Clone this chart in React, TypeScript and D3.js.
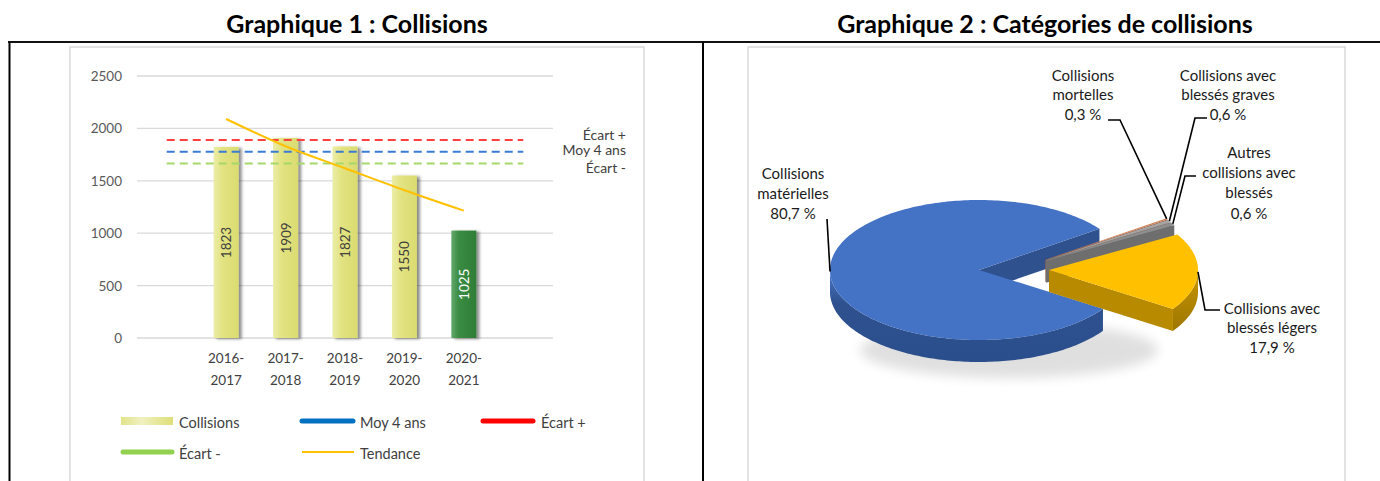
import React from "react";
import * as d3 from "d3";

// ---------- Data ----------
const years = ["2016-2017", "2017-2018", "2018-2019", "2019-2020", "2020-2021"];
const collisions = [1823, 1909, 1827, 1550, 1025];
const trend = [2090, 1830, 1620, 1410, 1215];
const moy4 = 1777;
const ecartPlus = 1890;
const ecartMinus = 1665;
const yTicks = [0, 500, 1000, 1500, 2000, 2500];

const pieNames = [
  "Collisions matérielles",
  "Collisions mortelles",
  "Collisions avec blessés graves",
  "Autres collisions avec blessés",
  "Collisions avec blessés légers",
];
const piePct = [80.7, 0.3, 0.6, 0.6, 17.9];
const pieExploded = [false, true, true, true, true];
const pieLabelLines = [
  ["Collisions", "matérielles", "80,7 %"],
  ["Collisions", "mortelles", "0,3 %"],
  ["Collisions avec", "blessés graves", "0,6 %"],
  ["Autres", "collisions avec", "blessés", "0,6 %"],
  ["Collisions avec", "blessés légers", "17,9 %"],
];

// ---------- Styles ----------
const FONT = "Lato, 'Open Sans', sans-serif";
const sliceTop = ["#4472C4", "#D0825A", "#A5A5A5", "#8E8E8E", "#FFC000"];
const sliceSideTop = ["#4A78C8", "#B06A45", "#8A8A8A", "#777777", "#D6A200"];
const sliceSideBot = ["#2A4D8C", "#8A4E30", "#666666", "#5A5A5A", "#9E7700"];
const sliceWall = ["#2F528F", "#9A5535", "#7A7A7A", "#6E6E6E", "#B88A00"];

// label layout (annotation placement)
const labelPos = [
  { x: 793, ys: [173, 193, 213], leader: [[827, 219]] },
  { x: 1083, ys: [75, 94, 114], leader: [[1108, 120], [1120, 120]] },
  { x: 1228, ys: [75, 94, 114], leader: [[1207, 118], [1195, 118]] },
  { x: 1249, ys: [152, 172, 192, 213], leader: [[1196, 176], [1185, 176]] },
  { x: 1272, ys: [308, 327, 347], leader: [[1220, 310], [1205, 310]] },
];

const PIE = { cx: 979, cy: 270, rx: 149, ry: 70, depth: 22, explode: 70, startDeg: 123.7, spread: 0.5 };

export default function App() {
  // ---------- Chart 1 ----------
  const slots = ["lead", ...years, "tail"];
  const x = d3
    .scaleBand<string>()
    .domain(slots)
    .range([137, 553])
    .paddingInner(0.579)
    .paddingOuter(0.2895);
  const y = d3.scaleLinear().domain([0, 2500]).range([338, 76]);
  const cOf = (k: string) => (x(k) ?? 0) + x.bandwidth() / 2;
  const trendPath = d3
    .line<number>()
    .x((_, i) => cOf(years[i]))
    .y((d) => y(d))
    .curve(d3.curveMonotoneX)(trend) as string;
  const refX1 = cOf("lead");
  const refX2 = cOf("tail");
  const refs = [
    { v: ecartPlus, color: "#FF4040", label: "Écart +", dy: -5 },
    { v: moy4, color: "#3A7BD5", label: "Moy 4 ans", dy: -2 },
    { v: ecartMinus, color: "#A6D86A", label: "Écart -", dy: 4 },
  ];

  // ---------- Chart 2 (3D pie) ----------
  const k = PIE.ry / PIE.rx;
  const R = PIE.rx;
  const startRad = (PIE.startDeg * Math.PI) / 180;
  const arcs = d3
    .pie<number>()
    .sort(null)
    .value((d) => d)
    .startAngle(startRad)
    .endAngle(startRad + 2 * Math.PI)(piePct);

  const pt = (t: number, r: number, off: number[], h: number): [number, number] => [
    PIE.cx + off[0] + r * Math.cos(t),
    PIE.cy + off[1] + k * r * Math.sin(t) + h,
  ];
  const arcPts = (a: number, b: number, off: number[], h: number) => {
    const n = Math.max(2, Math.ceil(Math.abs(b - a) / 0.02));
    const out: [number, number][] = [];
    for (let i = 0; i <= n; i++) out.push(pt(a + ((b - a) * i) / n, R, off, h));
    return out;
  };
  const poly = (p: [number, number][]) =>
    "M" + p.map((q) => q[0].toFixed(2) + "," + q[1].toFixed(2)).join("L") + "Z";

  const norm = (ts: number, te: number) => {
    let a = ts - Math.PI / 2;
    let b = te - Math.PI / 2;
    while (a >= Math.PI) {
      a -= 2 * Math.PI;
      b -= 2 * Math.PI;
    }
    return [a, b];
  };
  // exploded group bisector
  const grp = arcs.filter((_, i) => pieExploded[i]);
  const [gs] = norm(grp[0].startAngle, grp[0].endAngle);
  const gSpan = grp.reduce((s, a) => s + (a.endAngle - a.startAngle), 0);
  const gMid = gs + gSpan / 2;

  const slices = arcs.map((a, i) => {
    const [ts, te] = norm(a.startAngle, a.endAngle);
    const tm = (ts + te) / 2;
    const dir = gMid + (tm - gMid) * PIE.spread;
    const off = pieExploded[i]
      ? [PIE.explode * Math.cos(dir), PIE.explode * k * Math.sin(dir)]
      : [0, 0];
    const center = pt(0, 0, off, 0);
    const centerB = pt(0, 0, off, PIE.depth);
    const top = poly([center, ...arcPts(ts, te, off, 0)]);
    const walls: string[] = [];
    for (const base of [-2 * Math.PI, 0, 2 * Math.PI]) {
      const lo = Math.max(ts, base);
      const hi = Math.min(te, base + Math.PI);
      if (hi > lo) {
        const t1 = arcPts(lo, hi, off, 0);
        const t2 = arcPts(hi, lo, off, PIE.depth);
        walls.push(poly([...t1, ...t2]));
      }
    }
    const radial: string[] = [];
    if (Math.cos(ts) < 0)
      radial.push(poly([center, pt(ts, R, off, 0), pt(ts, R, off, PIE.depth), centerB]));
    if (Math.cos(te) > 0)
      radial.push(poly([center, pt(te, R, off, 0), pt(te, R, off, PIE.depth), centerB]));
    const anchor = pt(tm, R, off, 0);
    return { i, ts, te, tm, off, top, walls, radial, anchor };
  });

  const leaderPath = (i: number) => {
    const lp = labelPos[i].leader;
    const a = slices[i].anchor;
    const pts = i === 4 ? [a, ...lp.slice().reverse()] : [...lp, a];
    return "M" + pts.map((p) => p[0] + "," + p[1]).join("L");
  };

  const textFill = "#404040";

  return (
    <svg
      width={1380}
      height={481}
      style={{ position: "absolute", left: 0, top: 0, background: "#fff", fontFamily: FONT }}
    >
      <defs>
        <linearGradient id="barY" x1="0" x2="1" y1="0" y2="0">
          <stop offset="0" stopColor="#ECEDA8" />
          <stop offset="0.35" stopColor="#E2E381" />
          <stop offset="1" stopColor="#DADB70" />
        </linearGradient>
        <linearGradient id="barG" x1="0" x2="1" y1="0" y2="0">
          <stop offset="0" stopColor="#62A86B" />
          <stop offset="0.3" stopColor="#3B8C43" />
          <stop offset="1" stopColor="#2E7D36" />
        </linearGradient>
        <linearGradient id="legY" x1="0" x2="1" y1="0" y2="0">
          <stop offset="0" stopColor="#E2E38A" />
          <stop offset="0.4" stopColor="#F0F0C0" />
          <stop offset="1" stopColor="#DEDF78" />
        </linearGradient>
        <filter id="bshadow" x="-30%" y="-5%" width="160%" height="110%">
          <feDropShadow dx="3" dy="1" stdDeviation="1.6" floodColor="#000" floodOpacity="0.45" />
        </filter>
        <filter id="pblur" x="-20%" y="-50%" width="140%" height="200%">
          <feGaussianBlur stdDeviation="6" />
        </filter>
        {slices.map((s) => (
          <linearGradient key={s.i} id={"side" + s.i} x1="0" x2="0" y1="0" y2="1">
            <stop offset="0" stopColor={sliceSideTop[s.i]} />
            <stop offset="0.35" stopColor={sliceWall[s.i]} />
            <stop offset="1" stopColor={sliceSideBot[s.i]} />
          </linearGradient>
        ))}
      </defs>

      {/* Frame lines */}
      <line x1={8} x2={1380} y1={42} y2={42} stroke="#111" strokeWidth={2} />
      <line x1={9.5} x2={9.5} y1={42} y2={481} stroke="#000" strokeWidth={2} />
      <line x1={703} x2={703} y1={42} y2={481} stroke="#000" strokeWidth={2} />
      <rect x={70} y={47} width={574} height={460} fill="none" stroke="#D9D9D9" strokeWidth={1.5} />
      <rect x={748} y={47} width={597} height={460} fill="none" stroke="#D9D9D9" strokeWidth={1.5} />

      {/* Titles */}
      <text x={357} y={33} textAnchor="middle" fontWeight="bold" fontSize={25} fill="#000">
        Graphique 1 : Collisions
      </text>
      <text x={1045} y={33} textAnchor="middle" fontWeight="bold" fontSize={25} fill="#000">
        Graphique 2 : Catégories de collisions
      </text>

      {/* ---------- Chart 1 ---------- */}
      {yTicks.map((t) => (
        <g key={t}>
          <line x1={137} x2={553} y1={y(t)} y2={y(t)} stroke="#D9D9D9" strokeWidth={1.3} />
          <text x={122} y={y(t)} textAnchor="end" dominantBaseline="central" fontSize={13.5} fill="#595959">
            {t}
          </text>
        </g>
      ))}

      {years.map((yr, i) => {
        const bx = x(yr) ?? 0;
        const last = i === years.length - 1;
        return (
          <rect
            key={yr}
            x={bx}
            y={y(collisions[i])}
            width={x.bandwidth()}
            height={y(0) - y(collisions[i])}
            fill={last ? "url(#barG)" : "url(#barY)"}
            filter="url(#bshadow)"
          />
        );
      })}

      {refs.map((r) => (
        <line
          key={r.label}
          x1={refX1}
          x2={refX2}
          y1={y(r.v)}
          y2={y(r.v)}
          stroke={r.color}
          strokeWidth={2}
          strokeDasharray="8 5"
        />
      ))}

      <path d={trendPath} fill="none" stroke="#FFC000" strokeWidth={2} />

      {years.map((yr, i) => {
        const last = i === years.length - 1;
        const cx = cOf(yr);
        const cy = (y(collisions[i]) + y(0)) / 2;
        return (
          <text
            key={yr}
            transform={`translate(${cx},${cy}) rotate(-90)`}
            textAnchor="middle"
            dominantBaseline="central"
            fontSize={13.5}
            fill={last ? "#FFFFFF" : textFill}
          >
            {collisions[i]}
          </text>
        );
      })}

      {refs.map((r) => (
        <text
          key={r.label}
          x={626}
          y={y(r.v) + r.dy}
          textAnchor="end"
          dominantBaseline="central"
          fontSize={14}
          fill={textFill}
        >
          {r.label}
        </text>
      ))}

      {years.map((yr) => {
        const [a, b] = yr.split("-");
        return (
          <g key={yr}>
            <text x={cOf(yr)} y={358} textAnchor="middle" dominantBaseline="central" fontSize={13.5} fill={textFill}>
              {a + "-"}
            </text>
            <text x={cOf(yr)} y={380} textAnchor="middle" dominantBaseline="central" fontSize={13.5} fill={textFill}>
              {b}
            </text>
          </g>
        );
      })}

      {/* Legend */}
      <g fontSize={14.5} fill={textFill}>
        <rect x={121} y={417} width={52} height={8} fill="url(#legY)" />
        <text x={179} y={422} dominantBaseline="central">Collisions</text>
        <line x1={302} x2={353} y1={421} y2={421} stroke="#0070C0" strokeWidth={5} strokeLinecap="round" />
        <text x={360} y={422} dominantBaseline="central">Moy 4 ans</text>
        <line x1={483} x2={533} y1={421} y2={421} stroke="#FF0000" strokeWidth={5} strokeLinecap="round" />
        <text x={541} y={422} dominantBaseline="central">Écart +</text>
        <line x1={123} x2={172} y1={452} y2={452} stroke="#92D050" strokeWidth={5} strokeLinecap="round" />
        <text x={179} y={453} dominantBaseline="central">Écart -</text>
        <line x1={302} x2={354} y1={452} y2={452} stroke="#FFC000" strokeWidth={2} />
        <text x={360} y={453} dominantBaseline="central">Tendance</text>
      </g>

      {/* ---------- Chart 2 ---------- */}
      <ellipse
        cx={PIE.cx + 30}
        cy={PIE.cy + 80}
        rx={PIE.rx}
        ry={28}
        fill="#000"
        opacity={0.12}
        filter="url(#pblur)"
      />
      {slices.map((s) => (
        <g key={s.i}>
          {s.walls.map((d, j) => (
            <path key={"w" + j} d={d} fill={`url(#side${s.i})`} />
          ))}
          {s.radial.map((d, j) => (
            <path key={"r" + j} d={d} fill={sliceWall[s.i]} />
          ))}
          <path d={s.top} fill={sliceTop[s.i]} />
        </g>
      ))}

      {slices.map((s) => (
        <path key={"l" + s.i} d={leaderPath(s.i)} fill="none" stroke="#000" strokeWidth={1.6} />
      ))}

      <g fontSize={15} fill="#1A1A1A">
        {pieLabelLines.map((lines, i) =>
          lines.map((ln, j) => (
            <text
              key={i + "-" + j}
              x={labelPos[i].x}
              y={labelPos[i].ys[j]}
              textAnchor="middle"
              dominantBaseline="central"
            >
              {ln}
            </text>
          ))
        )}
      </g>
      <title>{pieNames.join(", ")}</title>
    </svg>
  );
}
